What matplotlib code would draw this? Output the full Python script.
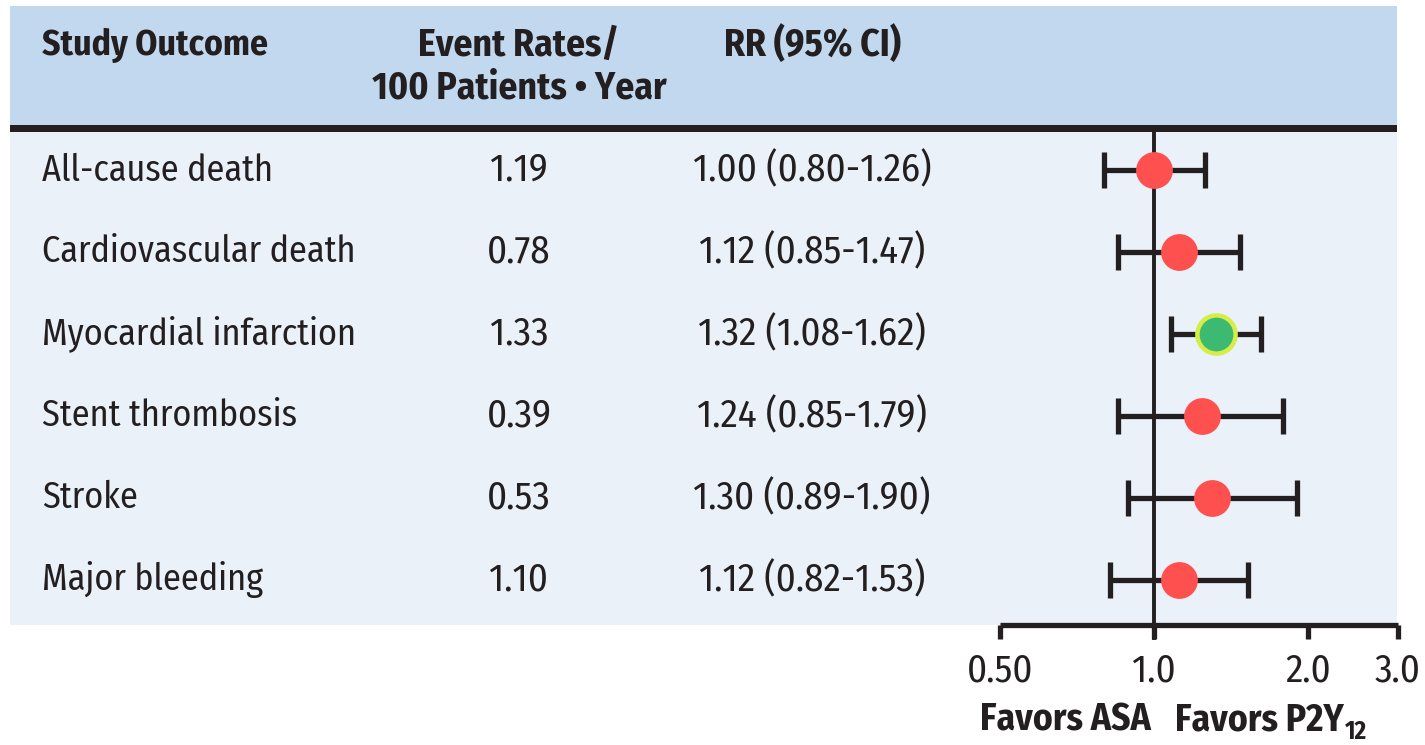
import matplotlib
matplotlib.use('Agg')
import matplotlib.pyplot as plt
import matplotlib.transforms as mtransforms
from matplotlib.patches import Rectangle
from matplotlib.ticker import NullLocator

# ── Data ──────────────────────────────────────────────────────────────────────
outcomes = [
    'All-cause death',
    'Cardiovascular death',
    'Myocardial infarction',
    'Stent thrombosis',
    'Stroke',
    'Major bleeding',
]
event_rates = [1.19, 0.78, 1.33, 0.39, 0.53, 1.10]
rr    = [1.00, 1.12, 1.32, 1.24, 1.30, 1.12]
ci_lo = [0.80, 0.85, 1.08, 0.85, 0.89, 0.82]
ci_hi = [1.26, 1.47, 1.62, 1.79, 1.90, 1.53]
xticks = [0.5, 1.0, 2.0, 3.0]
xtick_labels = ['0.50', '1.0', '2.0', '3.0']

# ── Style ─────────────────────────────────────────────────────────────────────
FONT = ['Fira Sans Condensed', 'Roboto Condensed', 'Archivo Narrow',
        'Asap Condensed', 'DejaVu Sans']
DARK = '#231f20'
HEAD_BG = '#c2d8ee'
BODY_BG = '#eaf1f9'
RED = '#ff5050'
GREEN = '#3dba72'
GREEN_EDGE = '#d6ec47'

W, H = 1425, 745
fig = plt.figure(figsize=(W / 100, H / 100), dpi=100)
fig.patch.set_facecolor('white')


def fx(px):
    return px / W


def fy(py):
    return 1 - py / H


def band(x0, y0, x1, y1, color):
    fig.patches.append(Rectangle((fx(x0), fy(y1)), fx(x1) - fx(x0), fy(y0) - fy(y1),
                                 transform=fig.transFigure, color=color, zorder=-5, lw=0))


# backgrounds: header, rule, body
band(10, 6, 1397, 125, HEAD_BG)
band(10, 125, 1397, 132, DARK)
band(10, 132, 1397, 625, BODY_BG)

# ── Forest plot axes (log scale) ──────────────────────────────────────────────
ax = fig.add_axes([fx(1000), fy(625), fx(1398) - fx(1000), fy(132) - fy(625)])
ax.set_facecolor('none')
ax.set_xscale('log')
ax.set_xlim(0.5, 3.0)
ax.set_ylim(5.55, -0.465)
for s in ['top', 'left', 'right']:
    ax.spines[s].set_visible(False)
ax.spines['bottom'].set_linewidth(3.8)
ax.spines['bottom'].set_color(DARK)
ax.spines['bottom'].set_capstyle('butt')
ax.xaxis.set_minor_locator(NullLocator())
ax.set_xticks(xticks)
ax.set_xticklabels(xtick_labels, family=FONT, fontsize=28, color=DARK)
ax.tick_params(axis='x', direction='out', length=10, width=3.8, color=DARK, pad=10)
ax.set_yticks([])

ax.axvline(1.0, ymin=-0.027, ymax=1.0, color=DARK, lw=2.8, clip_on=False, zorder=2)

for i, (m, lo, hi) in enumerate(zip(rr, ci_lo, ci_hi)):
    sig = lo > 1.0
    ax.errorbar(m, i, xerr=[[m - lo], [hi - m]], fmt='none', ecolor=DARK,
                elinewidth=3.8, capsize=13, capthick=3.8, zorder=3)
    if sig:
        ax.plot(m, i, 'o', ms=27.5, mfc=GREEN, mec=GREEN_EDGE, mew=3.2, zorder=4)
    else:
        ax.plot(m, i, 'o', ms=26.5, mfc=RED, mec=RED, mew=0, zorder=4)

# ── Table text ────────────────────────────────────────────────────────────────
row_tf = mtransforms.blended_transform_factory(fig.transFigure, ax.transData)
for i, (name, ev, m, lo, hi) in enumerate(zip(outcomes, event_rates, rr, ci_lo, ci_hi)):
    fig.text(fx(42), i, name, transform=row_tf, ha='left', va='center',
             family=FONT, fontsize=26, color=DARK)
    fig.text(fx(519), i, f'{ev:.2f}', transform=row_tf, ha='center', va='center',
             family=FONT, fontsize=28, color=DARK)
    fig.text(fx(812), i, f'{m:.2f} ({lo:.2f}-{hi:.2f})', transform=row_tf,
             ha='center', va='center', family=FONT, fontsize=28, color=DARK)

head = dict(family=FONT, fontsize=27, fontweight='bold', color=DARK, va='center')
fig.text(fx(42), fy(45), 'Study Outcome', ha='left',
         **{**head, 'fontsize': 25.5})
fig.text(fx(519), fy(45), 'Event Rates/', ha='center', **head)
fig.text(fx(519), fy(88), '100 Patients \u2022 Year', ha='center', **head)
fig.text(fx(812), fy(45), 'RR (95% CI)', ha='center', **head)

# direction labels under the axis
fig.text(fx(1065), fy(720), 'Favors ASA', ha='center', **head)
fav = fig.text(fx(1175), fy(720), 'Favors P2Y', ha='left', **head)
bb = fav.get_window_extent(renderer=fig.canvas.get_renderer())
fig.text(bb.x1 / W + 0.001, fy(732), '12', ha='left', va='center',
         family=FONT, fontsize=18, fontweight='bold', color=DARK)

fig.savefig('out.png', dpi=100, facecolor='white')
